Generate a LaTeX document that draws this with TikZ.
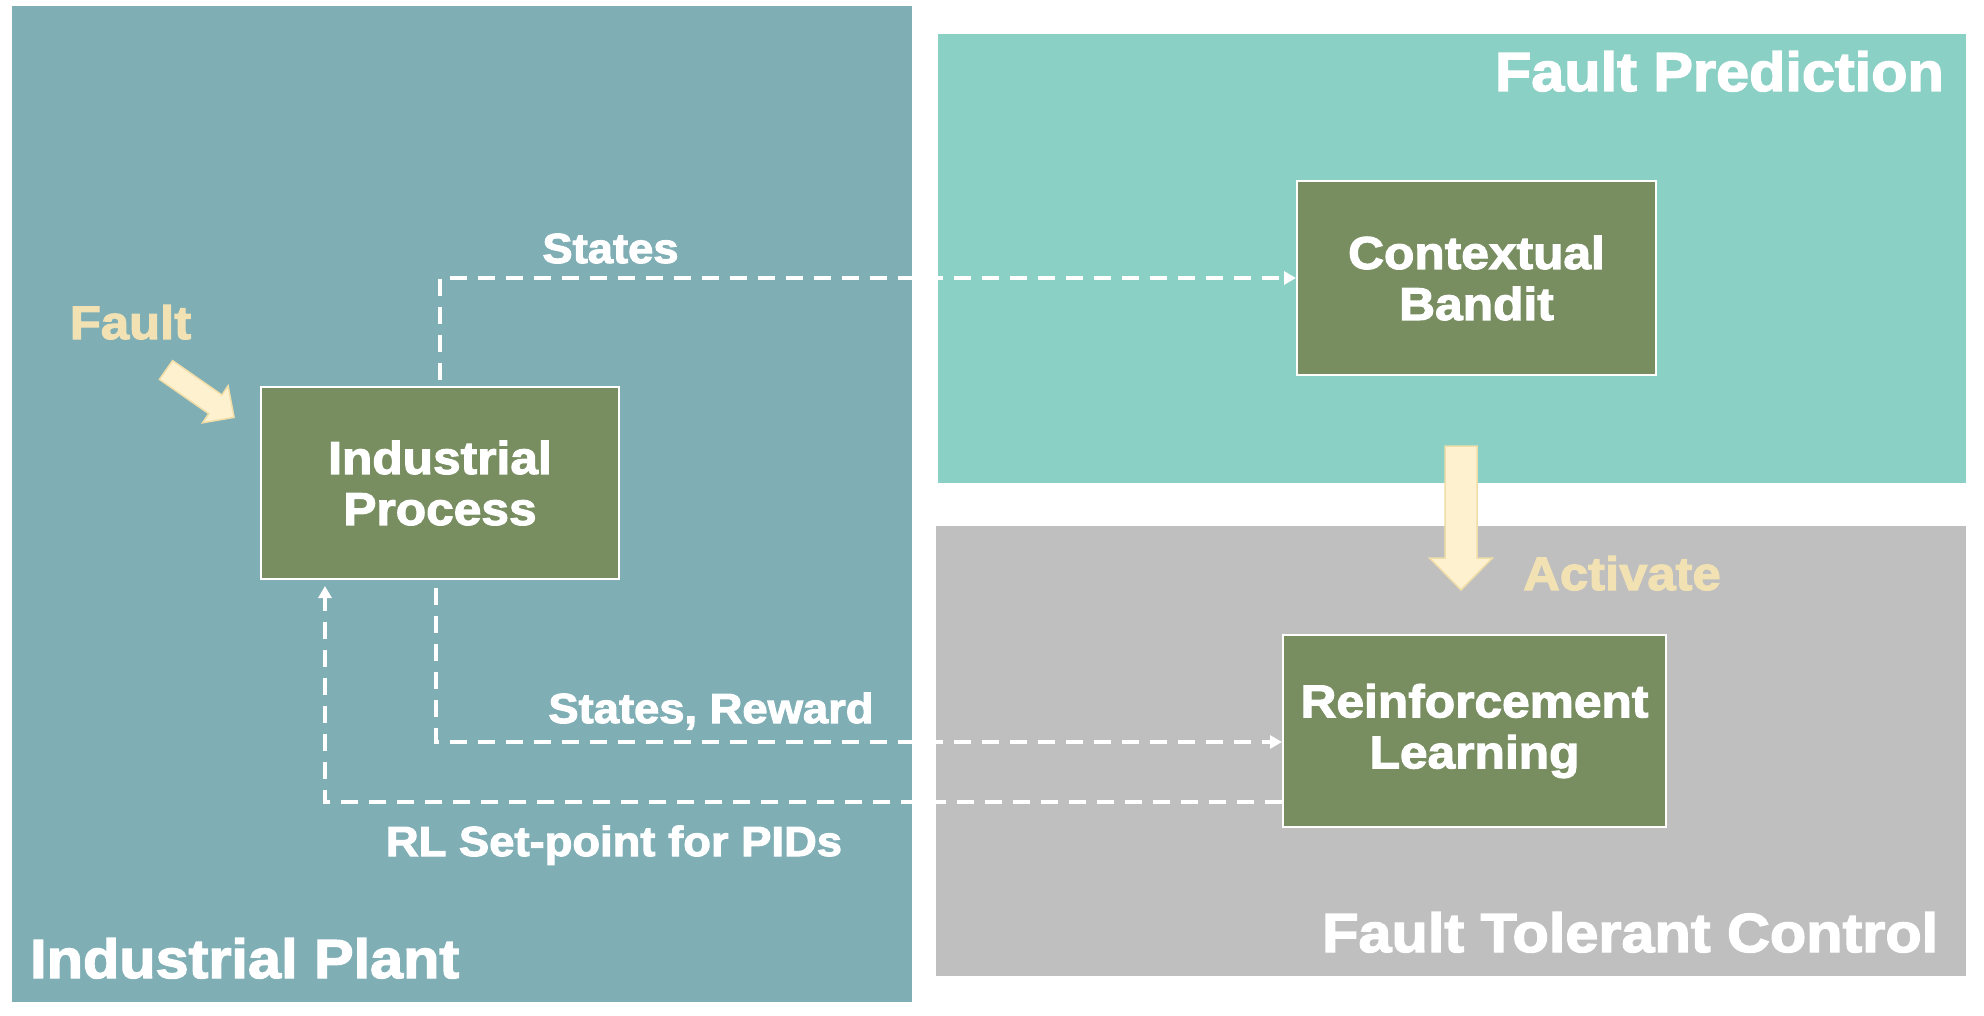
\documentclass[tikz,border=0pt]{standalone}
\usepackage{fontspec}
\newfontfamily\labfont[FakeStretch=1.08,FakeBold=2.5]{Liberation Sans Bold}
\usetikzlibrary{arrows.meta}
\definecolor{plantc}{HTML}{7FAEB5}
\definecolor{predc}{HTML}{8BD0C5}
\definecolor{ftcc}{HTML}{BFBFBF}
\definecolor{boxc}{HTML}{788E60}
\definecolor{warmtxt}{HTML}{F2E1B3}
\definecolor{arrfill}{HTML}{FDF1D0}
\definecolor{arredge}{HTML}{F0DDA8}
\begin{document}
\begin{tikzpicture}[x=1pt,y=-1pt,
  procbox/.style={draw=white, line width=2pt, fill=boxc, text=white,
    font=\labfont\fontsize{46}{51}\selectfont, align=center, inner sep=0pt},
  flow/.style={draw=white, line width=3.5pt, dash pattern=on 17pt off 11pt,
    -{Triangle[length=12pt,width=13pt]}},
  lbl/.style={text=white, font=\labfont\fontsize{42}{46}\selectfont, inner sep=0pt, anchor=base},
  paneltitle/.style={text=white, font=\labfont\fontsize{55}{60}\selectfont, inner sep=0pt},
  warm/.style={text=warmtxt, font=\labfont\fontsize{47}{50}\selectfont, inner sep=0pt, anchor=base},
  blockarrow/.style={fill=arrfill, draw=arredge, line width=1.5pt, line join=miter}]
\useasboundingbox (0,0) rectangle (1984,1016);
\fill[white] (0,0) rectangle (1984,1016);
% panels
\fill[plantc] (12,6) rectangle (912,1002);
\fill[predc] (938,34) rectangle (1966,483);
\fill[ftcc] (936,526) rectangle (1966,976);
% boxes
\node[procbox, minimum width=358pt, minimum height=192pt] (IP) at (440,483) {Industrial\\Process};
\node[procbox, minimum width=359pt, minimum height=194pt] (CB) at (1476.5,278) {Contextual\\Bandit};
\node[procbox, minimum width=383pt, minimum height=192pt] (RL) at (1474.5,731) {Reinforcement\\Learning};
% connectors
\draw[flow, shorten <=6pt] (IP.north) |- (CB.west);
\draw[flow, shorten <=8pt] ([xshift=-4pt]IP.south) |- ([yshift=-11pt]RL.west);
\draw[flow, shorten >=6pt] ([yshift=-71pt]RL.west) -| ([xshift=-115pt]IP.south);
% block arrows
\filldraw[blockarrow] (172.6,360.6) -- (221.9,394.9) -- (228.1,385.8) -- (234.1,417.4)
  -- (202.5,422.8) -- (208.7,413.7) -- (159.4,379.4) -- cycle;
\filldraw[blockarrow] (1445,446) -- (1477,446) -- (1477,558) -- (1492.5,558)
  -- (1461,590) -- (1429.5,558) -- (1445,558) -- cycle;
% labels
\node[lbl] (lS) at (610.5,263) {States};
\node[lbl] (lSR) at (711,723) {States, Reward};
\node[lbl] (lRL) at (614,856) {RL Set-point for PIDs};
\node[warm] (lF) at (130.5,339) {Fault};
\node[warm] (lA) at (1622,590) {Activate};
\node[paneltitle, anchor=base east] (tFP) at (1944,91) {Fault Prediction};
\node[paneltitle, anchor=base west] (tFTC) at (1322,952) {Fault Tolerant Control};
\node[paneltitle, anchor=base west] (tIP) at (30,978) {Industrial Plant};
\end{tikzpicture}
\end{document}
